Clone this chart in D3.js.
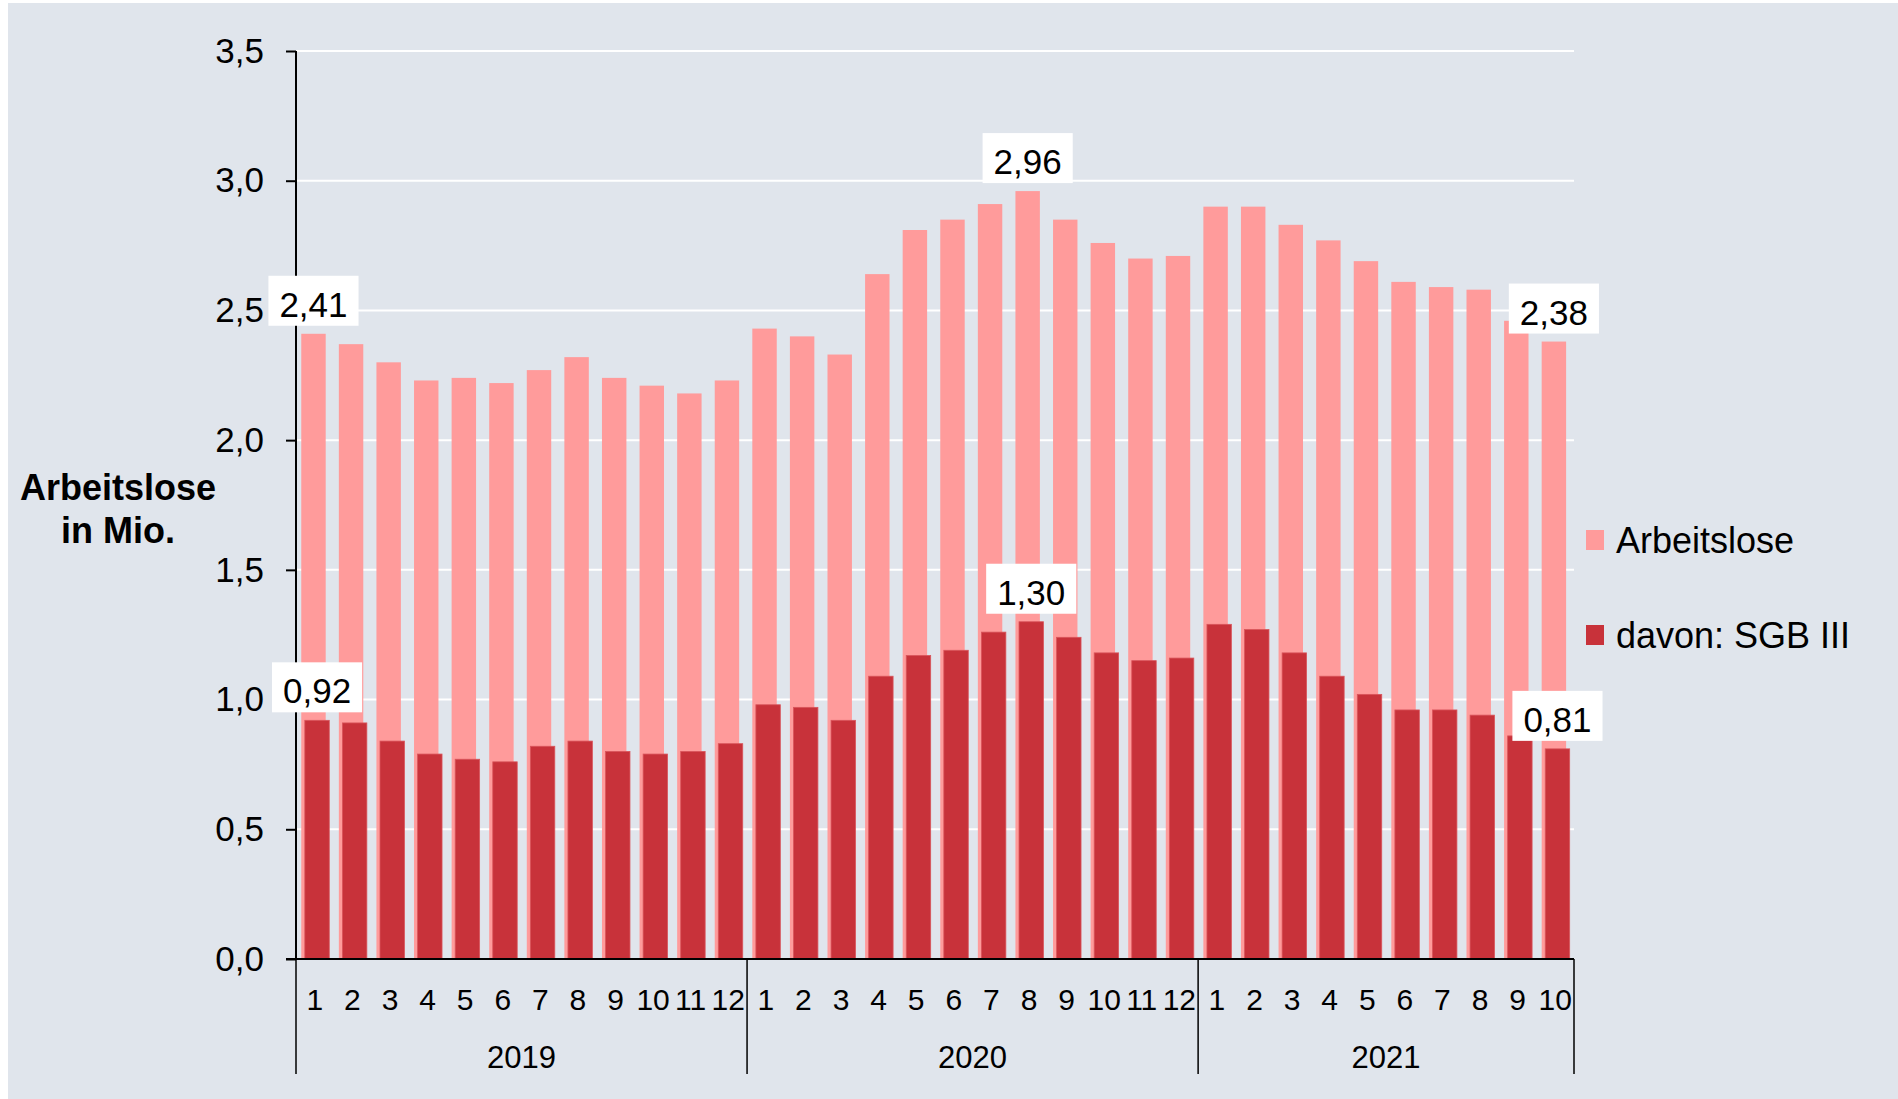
<!DOCTYPE html>
<html>
<head>
<meta charset="utf-8">
<script src="https://cdn.jsdelivr.net/npm/d3@7"></script>
<style>
  html, body { margin: 0; padding: 0; background: #ffffff; }
  svg { display: block; font-family: "Liberation Sans", Arial, sans-serif; }
</style>
</head>
<body>
<svg id="chart" width="1898" height="1099"></svg>
<script>
// ---- data ----
const years = ["2019", "2020", "2021"];
const monthsPerYear = [12, 12, 10];
const monthLabels = ["1","2","3","4","5","6","7","8","9","10","11","12",
                     "1","2","3","4","5","6","7","8","9","10","11","12",
                     "1","2","3","4","5","6","7","8","9","10"];
const arbeitslose = [2.41, 2.37, 2.30, 2.23, 2.24, 2.22, 2.27, 2.32, 2.24, 2.21, 2.18, 2.23,
                     2.43, 2.40, 2.33, 2.64, 2.81, 2.85, 2.91, 2.96, 2.85, 2.76, 2.70, 2.71,
                     2.90, 2.90, 2.83, 2.77, 2.69, 2.61, 2.59, 2.58, 2.46, 2.38];
const sgb3 = [0.92, 0.91, 0.84, 0.79, 0.77, 0.76, 0.82, 0.84, 0.80, 0.79, 0.80, 0.83,
              0.98, 0.97, 0.92, 1.09, 1.17, 1.19, 1.26, 1.30, 1.24, 1.18, 1.15, 1.16,
              1.29, 1.27, 1.18, 1.09, 1.02, 0.96, 0.96, 0.94, 0.86, 0.81];
const labelledIdx = [0, 19, 33];
const yTicks = [0, 0.5, 1.0, 1.5, 2.0, 2.5, 3.0, 3.5];
const seriesNames = ["Arbeitslose", "davon: SGB III"];
const axisTitle = ["Arbeitslose", "in Mio."];

// ---- styles ----
const colLight = "#FF9B9B";
const colDark = "#C8323A";
const bg = "#E0E5EC";
const fmt = v => d3.format(".2f")(v).replace(".", ",");
const fmtTick = v => d3.format(".1f")(v).replace(".", ",");

const svg = d3.select("#chart");
svg.append("rect").attr("x", 8).attr("y", 3).attr("width", 1890).attr("height", 1096).attr("fill", bg);

const x0 = 296, x1 = 1574, yTop = 51, yBot = 959;
const y = d3.scaleLinear().domain([0, 3.5]).range([yBot, yTop]);
const idx = d3.range(arbeitslose.length);
const x = d3.scaleBand().domain(idx).range([x0, x1]).padding(0);
const bw = x.bandwidth();
const barW = bw * 0.65;
const offLight = bw * 0.14, offDark = bw * 0.235;

// gridlines
svg.append("g").selectAll("line").data(yTicks.filter(t => t > 0)).join("line")
  .attr("x1", x0).attr("x2", x1)
  .attr("y1", d => y(d)).attr("y2", d => y(d))
  .attr("stroke", "#ffffff").attr("stroke-width", 2);

// bars
svg.append("g").selectAll("rect").data(arbeitslose).join("rect")
  .attr("x", (d, i) => x(i) + offLight).attr("width", barW)
  .attr("y", d => y(d)).attr("height", d => yBot - y(d))
  .attr("fill", colLight);
svg.append("g").selectAll("rect").data(sgb3).join("rect")
  .attr("x", (d, i) => x(i) + offDark).attr("width", barW)
  .attr("y", d => y(d)).attr("height", d => yBot - y(d))
  .attr("fill", colDark).attr("stroke", "#D9555B").attr("stroke-width", 0.8);

// y axis
const yAxis = d3.axisLeft(y).tickValues(yTicks).tickSize(10).tickPadding(22).tickFormat(fmtTick);
const gy = svg.append("g").attr("transform", `translate(${x0},0)`).call(yAxis);
gy.select(".domain").remove();
gy.selectAll(".tick line").attr("stroke", "#000").attr("stroke-width", 2);
gy.selectAll(".tick text").attr("font-size", 35).attr("fill", "#000")
  .attr("font-family", "Liberation Sans, Arial, sans-serif");
svg.append("line").attr("x1", x0).attr("x2", x0).attr("y1", yTop).attr("y2", yBot)
  .attr("stroke", "#000").attr("stroke-width", 2);

// x axis baseline
svg.append("line").attr("x1", x0 - 10).attr("x2", x1).attr("y1", yBot).attr("y2", yBot)
  .attr("stroke", "#000").attr("stroke-width", 2);

// month labels
svg.append("g").selectAll("text").data(monthLabels).join("text")
  .attr("x", (d, i) => x(i) + bw / 2).attr("y", 1010)
  .attr("text-anchor", "middle").attr("font-size", 30).attr("fill", "#000")
  .text(d => d);

// year separators & labels
let starts = [0];
monthsPerYear.forEach((m, k) => starts.push(starts[k] + m));
const sepX = starts.map(s => s < arbeitslose.length ? x(s) : x1);
svg.append("g").selectAll("line").data(sepX).join("line")
  .attr("x1", d => d).attr("x2", d => d).attr("y1", yBot).attr("y2", 1074)
  .attr("stroke", "#000").attr("stroke-width", 1.5);
svg.append("g").selectAll("text").data(years).join("text")
  .attr("x", (d, k) => (sepX[k] + sepX[k + 1]) / 2).attr("y", 1068)
  .attr("text-anchor", "middle").attr("font-size", 31).attr("fill", "#000")
  .text(d => d);

// axis title
const t = svg.append("text").attr("font-size", 36).attr("font-weight", "bold")
  .attr("text-anchor", "middle").attr("fill", "#000");
t.append("tspan").attr("x", 118).attr("y", 500).text(axisTitle[0]);
t.append("tspan").attr("x", 118).attr("y", 543).text(axisTitle[1]);

// data labels
function addLabel(cx, topY, value) {
  const g = svg.append("g");
  const rect = g.append("rect").attr("fill", "#ffffff");
  const txt = g.append("text").attr("x", cx).attr("y", topY - 17)
    .attr("text-anchor", "middle").attr("font-size", 35).attr("fill", "#000").text(fmt(value));
  const w = txt.node().getComputedTextLength();
  rect.attr("x", cx - w / 2 - 11).attr("width", w + 22)
    .attr("y", topY - 8 - 50).attr("height", 50);
}
labelledIdx.forEach(i => addLabel(x(i) + offLight + barW / 2, y(arbeitslose[i]), arbeitslose[i]));
labelledIdx.forEach(i => addLabel(x(i) + offDark + barW / 2, y(sgb3[i]), sgb3[i]));

// legend
const legend = svg.append("g");
[colLight, colDark].forEach((c, k) => {
  legend.append("rect").attr("x", 1586).attr("y", 530 + k * 95).attr("width", 18).attr("height", 20).attr("fill", c);
  legend.append("text").attr("x", 1616).attr("y", 553 + k * 95)
    .attr("font-size", 36).attr("fill", "#000").text(seriesNames[k]);
});
</script>
</body>
</html>
